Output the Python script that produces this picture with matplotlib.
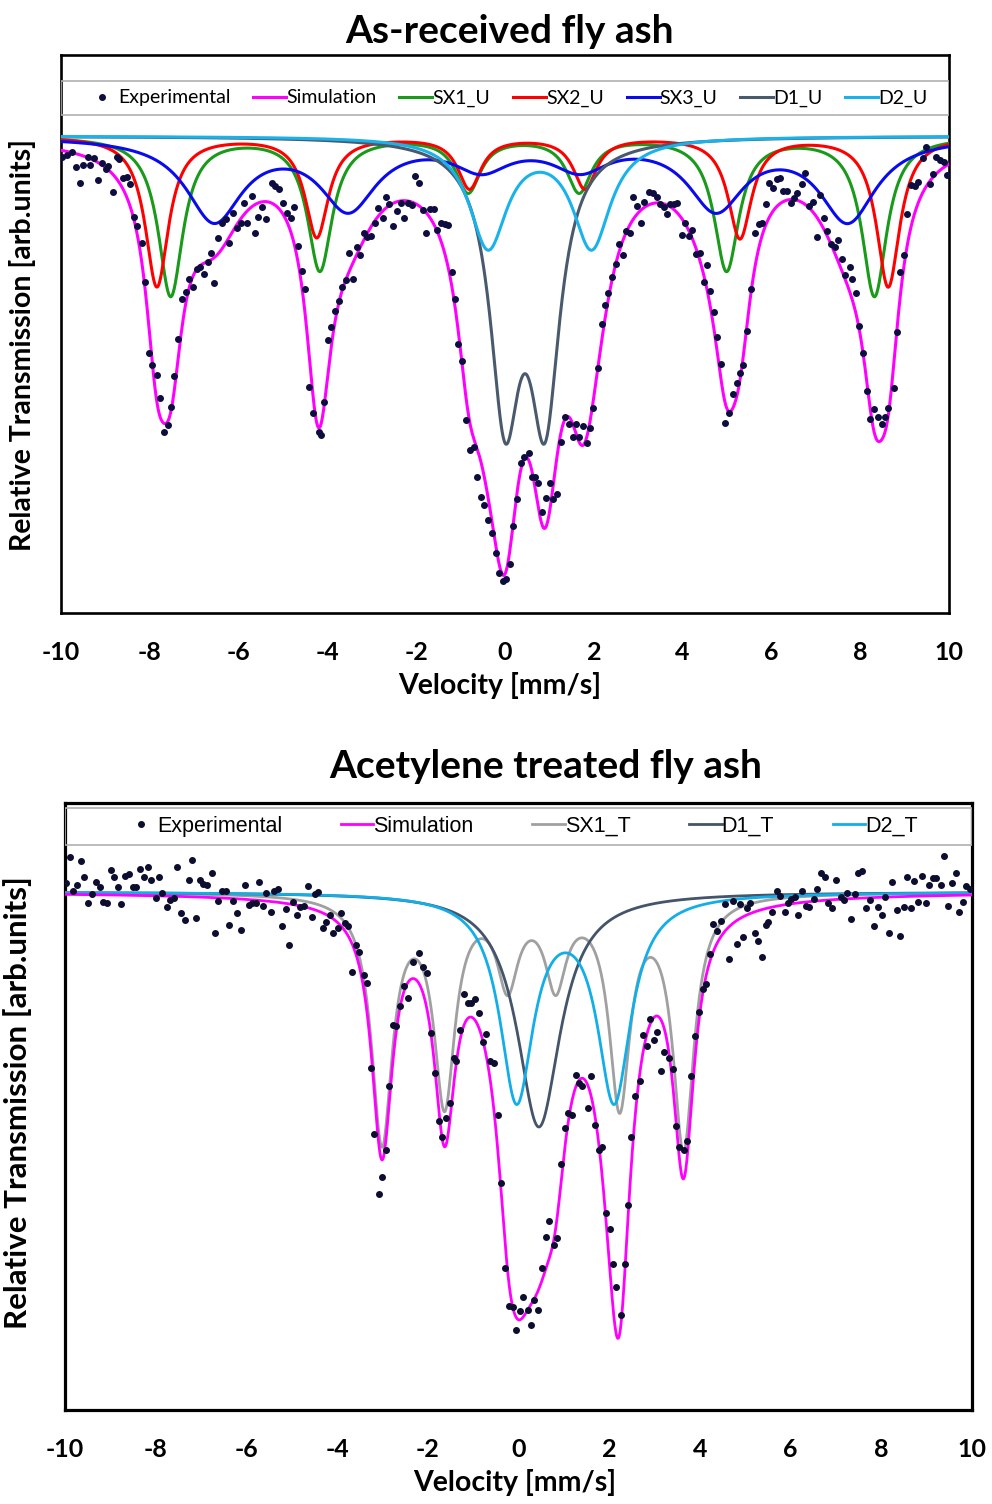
import numpy as np
import matplotlib.pyplot as plt
from matplotlib.patches import Rectangle

plt.rcParams['font.family'] = ['Lato', 'DejaVu Sans']
plt.rcParams['axes.unicode_minus'] = False

# ---- As-received fly ash: experimental points (velocity mm/s, relative transmission)
exp_u_v = [-9.98, -9.87, -9.76, -9.67, -9.57, -9.50, -9.40, -9.35, -9.25, -9.17, -9.08, -8.99, -8.95, -8.84, -8.75,
           -8.69, -8.60, -8.52, -8.44, -8.36, -8.28, -8.18, -8.11, -8.01, -7.94, -7.84, -7.77, -7.68, -7.60, -7.52,
           -7.45, -7.36, -7.28, -7.19, -7.12, -7.03, -6.94, -6.87, -6.78, -6.70, -6.62, -6.55, -6.46, -6.38, -6.29,
           -6.22, -6.12, -6.04, -5.95, -5.88, -5.80, -5.70, -5.63, -5.56, -5.47, -5.39,
           -5.25, -5.18, -5.08, -4.99, -4.92, -4.83, -4.75, -4.66, -4.58, -4.50, -4.41, -4.32, -4.20, -4.15, -4.08,
           -3.98, -3.92, -3.83, -3.75, -3.68, -3.58, -3.51, -3.42, -3.34, -3.27, -3.18, -3.10, -3.02, -2.93, -2.85,
           -2.75, -2.68, -2.61, -2.52, -2.43, -2.35, -2.27, -2.18, -2.10, -2.03, -1.94, -1.85, -1.78, -1.70, -1.61,
           -1.54, -1.45, -1.35, -1.28, -1.20, -1.13, -1.05, -0.98, -0.88, -0.80, -0.71,
           -0.64, -0.55, -0.47, -0.38, -0.30, -0.20, -0.13, -0.05, 0.02, 0.11, 0.19, 0.28, 0.35, 0.43, 0.53, 0.60,
           0.68, 0.75, 0.83, 0.92, 1.01, 1.09, 1.16, 1.26, 1.35, 1.43, 1.52, 1.60, 1.67, 1.76, 1.84, 1.91, 1.99,
           2.09, 2.18, 2.25, 2.33, 2.40, 2.50, 2.57, 2.65, 2.73, 2.82, 2.89, 2.98, 3.06, 3.13, 3.25,
           3.33, 3.42, 3.49, 3.57, 3.64, 3.72, 3.81, 3.88, 3.98, 4.05, 4.14, 4.20, 4.30, 4.38, 4.47, 4.54, 4.62,
           4.71, 4.78, 4.86, 4.95, 5.05, 5.14, 5.22, 5.29, 5.37, 5.46, 5.54, 5.63, 5.73, 5.78, 5.87, 5.95, 6.04,
           6.12, 6.19, 6.27, 6.34, 6.43, 6.51, 6.58, 6.68, 6.76, 6.85, 6.93, 7.02, 7.09, 7.18, 7.26, 7.34, 7.43,
           7.51, 7.58, 7.66, 7.77, 7.81, 7.91, 7.98, 8.07, 8.15, 8.22, 8.31, 8.41, 8.48, 8.56, 8.63, 8.75, 8.82,
           8.90, 8.99, 9.06, 9.14, 9.23, 9.31, 9.41, 9.48, 9.56, 9.63, 9.71, 9.80, 9.89, 9.95]
exp_u_t = [0.979, 0.981, 0.984, 0.969, 0.953, 0.971, 0.979, 0.971, 0.978, 0.956, 0.973, 0.967, 0.970, 0.944, 0.979,
           0.977, 0.958, 0.959, 0.952, 0.919, 0.910, 0.893, 0.854, 0.783, 0.771, 0.761, 0.738, 0.704, 0.711, 0.729,
           0.760, 0.797, 0.837, 0.844, 0.857, 0.849, 0.867, 0.869, 0.862, 0.874, 0.883, 0.853, 0.898, 0.913, 0.917,
           0.893, 0.923, 0.908, 0.913, 0.933, 0.913, 0.940, 0.903, 0.919, 0.929, 0.917,
           0.953, 0.950, 0.947, 0.933, 0.923, 0.918, 0.929, 0.890, 0.865, 0.847, 0.749, 0.723, 0.704, 0.701, 0.734,
           0.796, 0.809, 0.825, 0.835, 0.849, 0.856, 0.883, 0.857, 0.889, 0.881, 0.903, 0.899, 0.900, 0.913, 0.928,
           0.918, 0.939, 0.932, 0.910, 0.925, 0.933, 0.918, 0.933, 0.931, 0.960, 0.953, 0.926, 0.903, 0.927, 0.927,
           0.906, 0.913, 0.912, 0.911, 0.864, 0.837, 0.792, 0.775, 0.716, 0.686, 0.689,
           0.659, 0.639, 0.631, 0.616, 0.603, 0.583, 0.563, 0.555, 0.557, 0.572, 0.610, 0.637, 0.673, 0.679, 0.683, 0.659,
           0.659, 0.653, 0.624, 0.638, 0.653, 0.637, 0.642, 0.694, 0.719, 0.712, 0.699, 0.712, 0.699, 0.710, 0.693, 0.708, 0.728,
           0.768, 0.812, 0.831, 0.843, 0.859, 0.872, 0.892, 0.881, 0.905, 0.903, 0.939, 0.930, 0.913, 0.934, 0.944,
           0.943, 0.939, 0.932, 0.929, 0.922, 0.932, 0.932, 0.933, 0.901, 0.913, 0.900, 0.906, 0.882, 0.883, 0.854, 0.871, 0.845,
           0.824, 0.799, 0.772, 0.713, 0.723, 0.742, 0.753, 0.763, 0.771, 0.805, 0.847, 0.903, 0.912, 0.913, 0.932, 0.953, 0.948,
           0.957, 0.958, 0.945, 0.945, 0.933, 0.938, 0.943, 0.952, 0.963, 0.930, 0.934, 0.899, 0.941, 0.918, 0.905, 0.892, 0.889,
           0.896, 0.877, 0.861, 0.869, 0.857, 0.843, 0.810, 0.783, 0.745, 0.717, 0.727, 0.719, 0.712, 0.719, 0.728, 0.748, 0.804,
           0.864, 0.881, 0.922, 0.951, 0.950, 0.954, 0.978, 0.989, 0.952, 0.962, 0.979, 0.976, 0.974, 0.961]

# fitted sub-spectra (line positions mm/s, line depths, line width FWHM mm/s)
sx1_u_pos = [-7.53, -4.17, -0.83, 1.67, 4.99, 8.32]
sx1_u_amp = [0.159, 0.133, 0.054, 0.054, 0.133, 0.159]
sx1_u_fwhm = 0.68
sx2_u_pos = [-7.84, -4.24, -0.80, 1.80, 5.29, 8.63]
sx2_u_amp = [0.150, 0.100, 0.051, 0.051, 0.101, 0.150]
sx2_u_fwhm = 0.64
sx3_u_pos = [-6.55, -3.53, -0.53, 1.69, 4.75, 7.72]
sx3_u_amp = [0.082, 0.069, 0.028, 0.028, 0.069, 0.082]
sx3_u_fwhm = 1.54
d1_u_pos = [0.00, 0.90]
d1_u_amp = [0.262, 0.262]
d1_u_fwhm = 0.82
d2_u_pos = [-0.38, 1.95]
d2_u_amp = [0.109, 0.109]
d2_u_fwhm = 1.04

# ---- Acetylene treated fly ash
exp_t_v = [-9.98, -9.90, -9.82, -9.73, -9.65, -9.58, -9.49, -9.41, -9.32, -9.23, -9.16, -9.08, -8.99, -8.92, -8.83,
           -8.76, -8.68, -8.59, -8.51, -8.43, -8.34, -8.26, -8.18, -8.10, -8.00, -7.92, -7.85, -7.76, -7.68, -7.59,
           -7.52, -7.44, -7.35, -7.26, -7.19, -7.11, -7.03, -6.95, -6.86, -6.76, -6.70, -6.62, -6.53, -6.45, -6.38,
           -6.29, -6.20, -6.12, -6.03, -5.95, -5.88, -5.79, -5.72, -5.63, -5.56, -5.46, -5.39, -5.30, -5.22, -5.13,
           -5.06, -4.98, -4.89, -4.82, -4.72, -4.65, -4.56, -4.49, -4.41, -4.32, -4.25, -4.16, -4.09, -3.99, -3.91,
           -3.83, -3.75, -3.66, -3.58, -3.51, -3.40, -3.33, -3.25, -3.18, -3.08, -3.00, -2.92, -2.85, -2.76, -2.69,
           -2.61, -2.52, -2.44, -2.33, -2.19, -2.10, -2.02, -1.93, -1.85, -1.76, -1.68, -1.60, -1.52, -1.43, -1.38,
           -1.29, -1.21, -1.12, -1.04, -0.95, -0.88, -0.79, -0.71, -0.62, -0.55, -0.46, -0.38, -0.29, -0.21, -0.13,
           -0.05, 0.04, 0.11, 0.21, 0.28, 0.35, 0.44, 0.52, 0.61, 0.68, 0.78, 0.85, 0.94, 1.02, 1.09, 1.19, 1.26,
           1.33, 1.41, 1.53, 1.60, 1.68, 1.77, 1.85, 1.92, 2.01, 2.08, 2.16, 2.25, 2.34, 2.41, 2.49, 2.58, 2.67,
           2.74, 2.83, 2.91, 2.98, 3.06, 3.15, 3.22, 3.32, 3.41, 3.48, 3.55, 3.64, 3.72, 3.81, 3.90, 3.98, 4.06,
           4.13, 4.22, 4.30, 4.38, 4.46, 4.55, 4.64, 4.72, 4.81, 4.88, 4.95, 5.04, 5.11, 5.21, 5.28, 5.36, 5.45,
           5.50, 5.60, 5.69, 5.76, 5.87, 5.95, 6.02, 6.09, 6.17, 6.26, 6.34, 6.41, 6.51, 6.59, 6.68, 6.75, 6.83,
           6.92, 7.01, 7.12, 7.17, 7.25, 7.34, 7.42, 7.49, 7.57, 7.66, 7.75, 7.84, 7.92, 8.01, 8.08, 8.16, 8.23,
           8.34, 8.41, 8.50, 8.57, 8.65, 8.73, 8.81, 8.90, 8.98, 9.06, 9.13, 9.21, 9.31, 9.39, 9.48, 9.55, 9.64,
           9.72, 9.80, 9.87, 9.96]
exp_t_t = [1.009, 1.035, 1.001, 1.007, 1.031, 1.015, 0.989, 0.998, 1.010, 1.005, 0.990, 0.989, 1.022, 1.015, 1.005,
           0.988, 1.016, 1.018, 1.005, 1.005, 1.023, 1.015, 1.025, 1.012, 0.994, 1.015, 0.999, 0.985, 0.992, 0.994,
           1.025, 0.979, 0.972, 1.012, 1.032, 0.974, 1.012, 1.008, 1.007, 1.019, 0.959, 0.991, 1.001, 1.001, 0.967,
           0.991, 0.979, 0.962, 1.007, 0.987, 0.989, 0.989, 1.010, 0.986, 0.999, 0.980, 1.001, 1.003, 0.966, 0.983,
           0.947, 0.990, 0.977, 0.985, 0.986, 1.006, 0.975, 0.998, 1.000, 0.964, 0.970, 0.977, 0.959, 0.964, 0.979,
           0.969, 0.966, 0.920, 0.947, 0.940, 0.917, 0.909, 0.824, 0.758, 0.698, 0.715, 0.742, 0.806, 0.867, 0.866,
           0.886, 0.906, 0.894, 0.930, 0.939, 0.925, 0.919, 0.859, 0.819, 0.771, 0.755, 0.774, 0.789, 0.834, 0.831,
           0.862, 0.898, 0.889, 0.889, 0.893, 0.879, 0.850, 0.858, 0.831, 0.829, 0.777, 0.709, 0.624, 0.586, 0.585,
           0.562, 0.581, 0.595, 0.582, 0.567, 0.592, 0.582, 0.624, 0.655, 0.671, 0.647, 0.654, 0.728, 0.764, 0.779, 0.777, 0.817,
           0.809, 0.806, 0.784, 0.816, 0.767, 0.742, 0.745, 0.679, 0.663, 0.628, 0.605, 0.577, 0.628, 0.687, 0.755, 0.796, 0.811,
           0.857, 0.846, 0.873, 0.852, 0.860, 0.821, 0.840, 0.834, 0.823, 0.766, 0.745, 0.742, 0.751, 0.816, 0.856, 0.880, 0.903,
           0.908, 0.938, 0.968, 0.961, 0.971, 0.988, 0.933, 0.991, 0.948, 0.988, 0.955, 0.984, 0.989, 0.959, 0.951, 0.935, 0.967,
           0.970, 0.980, 1.001, 0.996, 0.980, 0.989, 0.993, 0.995, 0.977, 1.001, 0.986, 0.985, 0.993, 1.003, 1.019, 1.015, 0.989,
           0.984, 1.012, 0.995, 0.992, 0.999, 0.973, 0.998, 1.019, 1.021, 0.984, 0.992, 0.966, 0.985, 0.977, 0.995, 0.959, 1.010,
           0.982, 0.956, 0.985, 1.015, 0.984, 1.011, 0.990, 1.016, 0.989, 1.007, 1.014, 1.014, 1.007, 1.036, 0.986, 1.009, 1.019,
           0.980, 0.990, 1.006, 1.003]

sx1_t_pos = [-3.01, -1.63, -0.24, 0.82, 2.23, 3.64]
sx1_t_amp = [0.245, 0.204, 0.084, 0.084, 0.206, 0.250]
sx1_t_fwhm = 0.56
d1_t_pos = [0.45]
d1_t_amp = [0.235]
d1_t_fwhm = 1.16
d2_t_pos = [-0.04, 2.11]
d2_t_amp = [0.204, 0.204]
d2_t_fwhm = 0.90


def lorentz(v, pos, amp, fwhm):
    hw = fwhm / 2
    return amp * hw**2 / ((v - pos)**2 + hw**2)

def absorption(v, positions, amps, fwhm):
    return sum(lorentz(v, p, a, fwhm) for p, a in zip(positions, amps))


v = np.linspace(-10, 10, 1601)

fig = plt.figure(figsize=(9.92, 15.04), dpi=100)

# ---------------- top panel
ax1 = fig.add_axes([0.0615, 0.5924, 0.8952, 0.3710])
comps_u = [("SX1_U", sx1_u_pos, sx1_u_amp, sx1_u_fwhm, "#1a9a1a"),
           ("SX2_U", sx2_u_pos, sx2_u_amp, sx2_u_fwhm, "#ff0000"),
           ("SX3_U", sx3_u_pos, sx3_u_amp, sx3_u_fwhm, "#0a0aee"),
           ("D1_U", d1_u_pos, d1_u_amp, d1_u_fwhm, "#4a5a6e"),
           ("D2_U", d2_u_pos, d2_u_amp, d2_u_fwhm, "#1ab2ea")]
total = sum(absorption(v, p, a, w) for _, p, a, w, _ in comps_u)

ax1.plot(exp_u_v, exp_u_t, 'o', ms=4, color="#0d0d40", label="Experimental", zorder=6)
ax1.plot(v, 1 - total, color="#ff00ff", lw=2.2, label="Simulation", zorder=4)
for name, p, a, w, c in comps_u:
    ax1.plot(v, 1 - absorption(v, p, a, w), color=c, lw=2.2, label=name, zorder=3)

ax1.set_xlim(-10, 10)
ax1.set_ylim(0.523, 1.081)

# ---------------- bottom panel
ax2 = fig.add_axes([0.0655, 0.0625, 0.9143, 0.4036])
comps_t = [("SX1_T", sx1_t_pos, sx1_t_amp, sx1_t_fwhm, "#a0a0a0"),
           ("D1_T", d1_t_pos, d1_t_amp, d1_t_fwhm, "#44546a"),
           ("D2_T", d2_t_pos, d2_t_amp, d2_t_fwhm, "#12aee8")]
total = sum(absorption(v, p, a, w) for _, p, a, w, _ in comps_t)

ax2.plot(exp_t_v, exp_t_t, 'o', ms=4, color="#0d0d30", label="Experimental", zorder=6)
ax2.plot(v, 1 - total, color="#ff00ff", lw=2.0, label="Simulation", zorder=4)
for name, p, a, w, c in comps_t:
    ax2.plot(v, 1 - absorption(v, p, a, w), color=c, lw=2.0, label=name, zorder=3)

ax2.set_xlim(-10, 10)
ax2.set_ylim(0.482, 1.089)

# ---------------- common styling
for ax, lw, ylsize in ((ax1, 1.9, 20.5), (ax2, 2.3, 22.5)):
    ax.set_xticks(range(-10, 11, 2))
    ax.set_yticks([])
    ax.tick_params(axis='x', length=0, pad=20, labelsize=18)
    for lab in ax.get_xticklabels():
        lab.set_fontweight('bold')
    for s in ax.spines.values():
        s.set_linewidth(lw)
        s.set_color('black')
    ax.set_xlabel("Velocity [mm/s]", fontsize=20.5, fontweight='bold')
    ax.set_ylabel("Relative Transmission [arb.units]", fontsize=ylsize, fontweight='bold')

ax1.xaxis.set_label_coords(0.494, -0.105)
ax1.yaxis.set_label_coords(-0.028, 0.48)
ax2.xaxis.set_label_coords(0.496, -0.098)
ax2.yaxis.set_label_coords(-0.036, 0.507)

ax1.set_title("As-received fly ash", fontsize=28, fontweight='bold', pad=9, x=0.505)
ax2.set_title("Acetylene treated fly ash", fontsize=28, fontweight='bold', pad=18, x=0.53)

# legends inside a full-width box at the top of each panel
ax1.add_patch(Rectangle((0, 0.8925), 1, 0.0609, transform=ax1.transAxes, fill=False,
                        ec="#b0b0b0", lw=1.2, zorder=7))
ax1.legend(loc='center', bbox_to_anchor=(0.027, 0.8925, 0.949, 0.0609), mode='expand', ncol=7,
           frameon=False, fontsize=14, handlelength=1.7, handletextpad=0.0, borderpad=0,
           borderaxespad=0, markerscale=1.0)

ax2.add_patch(Rectangle((0, 0.9308), 1, 0.061, transform=ax2.transAxes, fill=False,
                        ec="#b0b0b0", lw=1.2, zorder=7))
ax2.legend(loc='center', bbox_to_anchor=(0.0656, 0.9308, 0.875, 0.061), mode='expand', ncol=5,
           frameon=False, handlelength=1.5, handletextpad=0.0, borderpad=0, borderaxespad=0,
           prop={'family': 'Liberation Sans', 'size': 15.5})

fig.savefig("out.png", dpi=100)
